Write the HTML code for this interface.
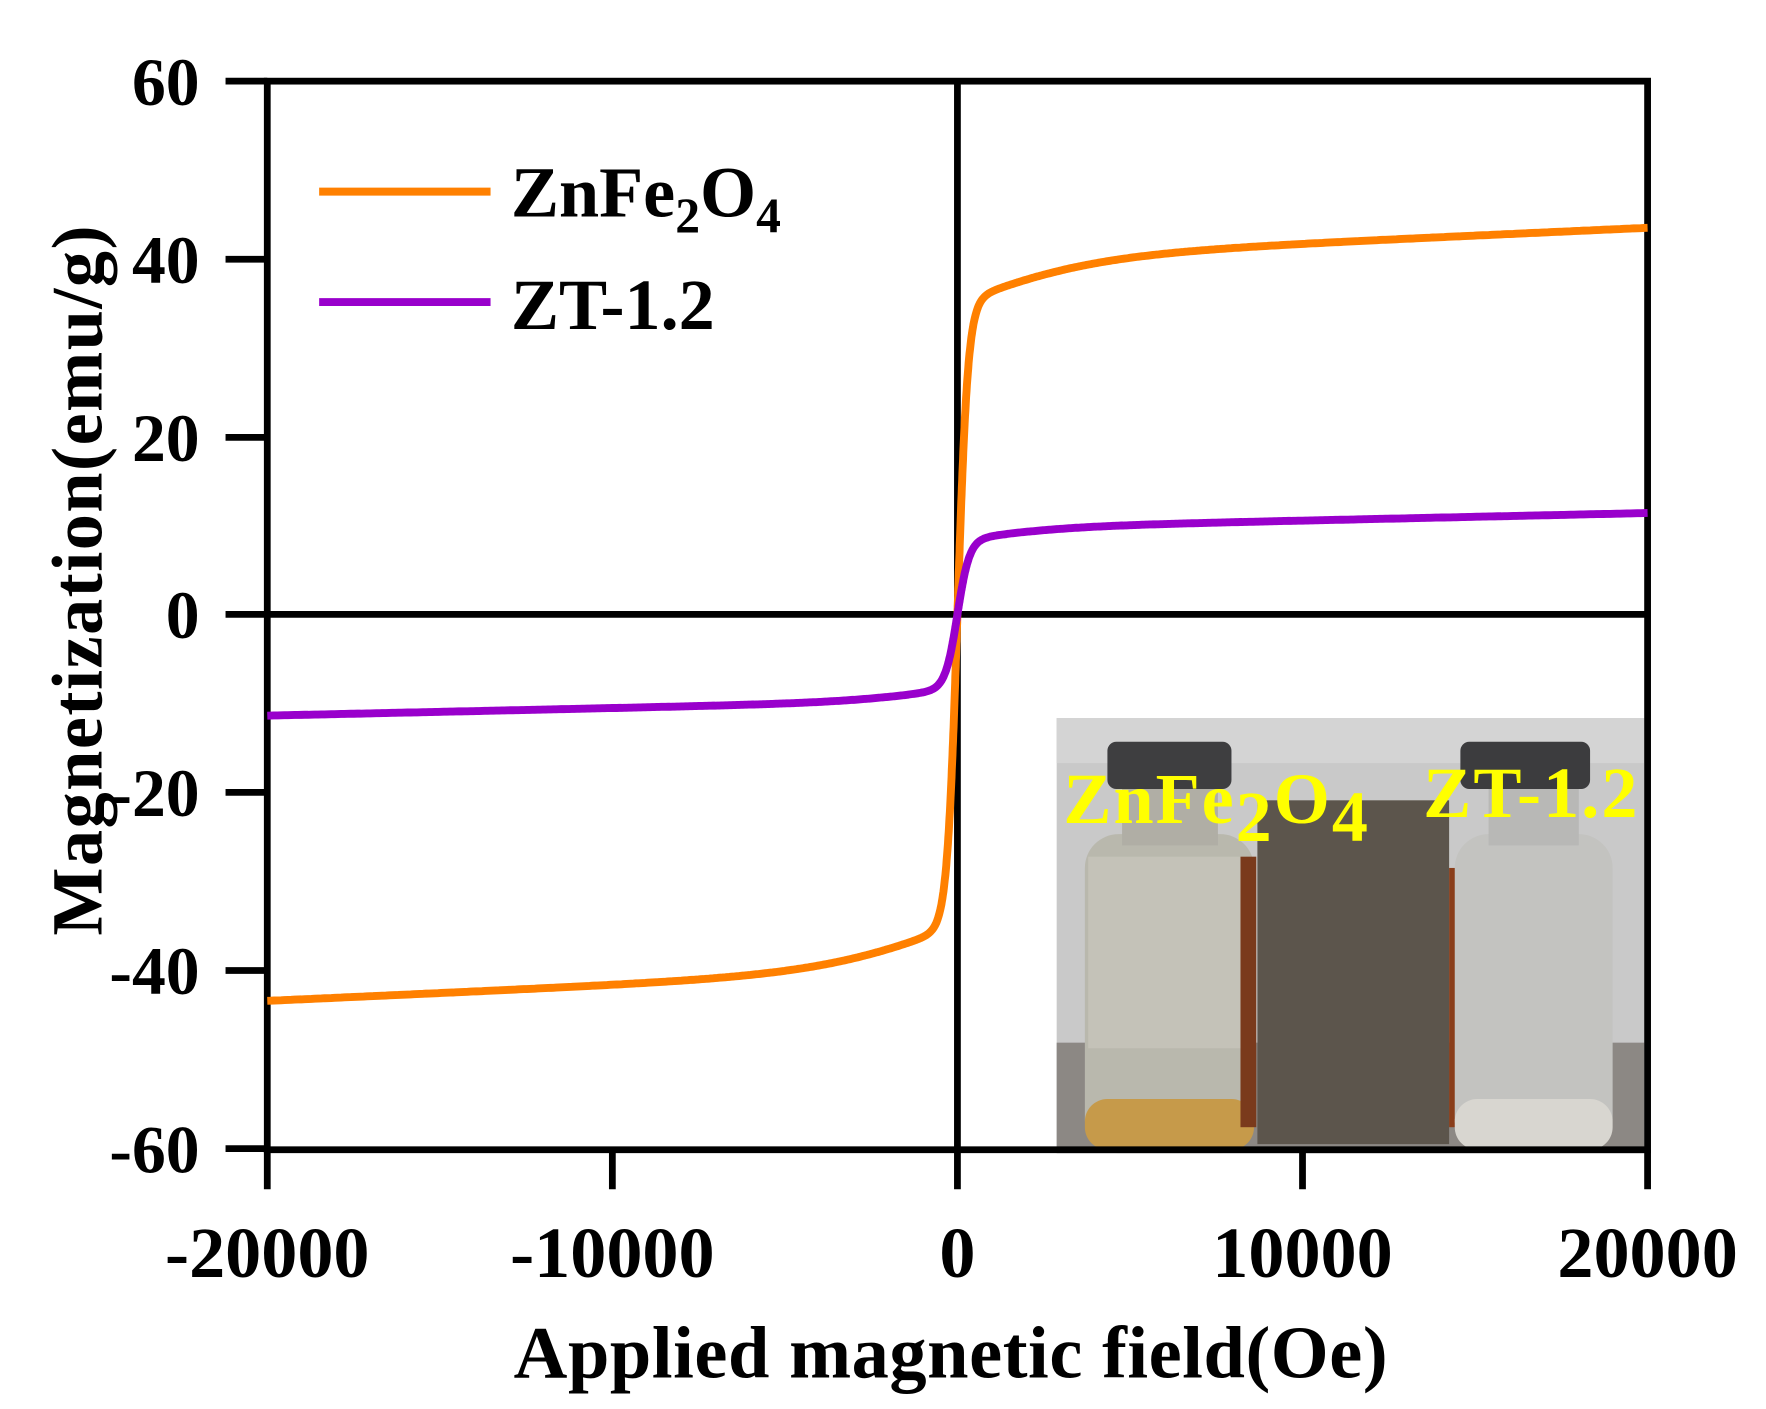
<!DOCTYPE html>
<html><head><meta charset="utf-8"><style>
html,body{margin:0;padding:0;background:#fff;}
svg{display:block;}
text{font-family:"Liberation Serif",serif;font-weight:bold;fill:#000;}
</style></head><body>
<svg id="s" width="1766" height="1409" viewBox="0 0 1566 1250" preserveAspectRatio="none" xmlns="http://www.w3.org/2000/svg">
<rect width="1566" height="1250" fill="#fff"/>
<g>
<rect x="937" y="637" width="521" height="386" fill="#c9c9c9"/>
<rect x="937" y="925" width="521" height="98" fill="#8c8884"/>
<rect x="937" y="637" width="521" height="40" fill="#d4d4d4"/>
<rect x="962" y="740" width="150" height="283" rx="30" fill="#b9b8ad"/>
<rect x="965" y="760" width="140" height="170" fill="#c4c2b8"/>
<rect x="962" y="975" width="150" height="45" rx="20" fill="#c69a4a"/>
<rect x="995" y="695" width="85" height="55" fill="#b0aea5"/>
<rect x="982" y="658" width="110" height="42" rx="8" fill="#3e3e40"/>
<rect x="1115" y="710" width="170" height="305" fill="#5c554c"/>
<rect x="1100" y="760" width="14" height="240" fill="#7a3a1c"/>
<rect x="1285" y="770" width="12" height="230" fill="#8a3e1a"/>
<rect x="1290" y="740" width="140" height="283" rx="30" fill="#c3c3c0"/>
<rect x="1290" y="975" width="140" height="45" rx="20" fill="#d8d6d0"/>
<rect x="1320" y="695" width="80" height="55" fill="#b8b8b6"/>
<rect x="1295" y="658" width="115" height="42" rx="8" fill="#3c3c3e"/>
<text x="943" y="730" font-size="64" textLength="270" style="fill:#ffff00">ZnFe<tspan dy="16">2</tspan><tspan dy="-16">O</tspan><tspan dy="16">4</tspan></text>
<text x="1262" y="725" font-size="64" textLength="190" style="fill:#ffff00">ZT-1.2</text>
</g>
<g stroke="#000" stroke-width="6" fill="none">
<rect x="237" y="72" width="1224" height="948"/>
<line x1="237" y1="545" x2="1461" y2="545"/>
<line x1="849" y1="72" x2="849" y2="1020"/>
<line x1="200" y1="72" x2="237" y2="72"/>
<line x1="200" y1="230" x2="237" y2="230"/>
<line x1="200" y1="388" x2="237" y2="388"/>
<line x1="200" y1="545" x2="237" y2="545"/>
<line x1="200" y1="703" x2="237" y2="703"/>
<line x1="200" y1="861" x2="237" y2="861"/>
<line x1="200" y1="1019" x2="237" y2="1019"/>
<line x1="237" y1="1020" x2="237" y2="1055"/>
<line x1="543" y1="1020" x2="543" y2="1055"/>
<line x1="849" y1="1020" x2="849" y2="1055"/>
<line x1="1155" y1="1020" x2="1155" y2="1055"/>
<line x1="1461" y1="1020" x2="1461" y2="1055"/>
</g>
<g id="curves"></g>
<g font-size="60" text-anchor="end">
<text x="177" y="93">60</text>
<text x="177" y="251">40</text>
<text x="177" y="409">20</text>
<text x="177" y="566">0</text>
<text x="177" y="724">-20</text>
<text x="177" y="882">-40</text>
<text x="177" y="1040">-60</text>
</g>
<g font-size="64" text-anchor="middle">
<text x="237" y="1133">-20000</text>
<text x="543" y="1133">-10000</text>
<text x="849" y="1133">0</text>
<text x="1155" y="1133">10000</text>
<text x="1461" y="1133">20000</text>
</g>
<text x="843" y="1222" font-size="66" text-anchor="middle" textLength="775">Applied magnetic field(Oe)</text>
<text transform="translate(90,515) rotate(-90)" font-size="64" text-anchor="middle" textLength="630">Magnetization(emu/g)</text>
<line x1="283" y1="170" x2="435" y2="170" stroke="#ff8000" stroke-width="7"/>
<line x1="283" y1="268" x2="435" y2="268" stroke="#9900cc" stroke-width="7"/>
<text x="453" y="192" font-size="64">ZnFe<tspan font-size="44" dy="14">2</tspan><tspan dy="-14">O</tspan><tspan font-size="44" dy="14">4</tspan></text>
<text x="453" y="292" font-size="64">ZT-1.2</text>
</svg>
<script>
(function(){
function X(h){return 849+h*(1224/40000);}
function Y(m){return 545-m*(473/60);}
function path(f){var d="";for(var i=0;i<=800;i++){var t=-1+2*i/800;var h=20000*Math.sign(t)*Math.pow(Math.abs(t),2);d+=(i?"L":"M")+X(h).toFixed(1)+","+Y(f(h)).toFixed(1);}return d;}
function o(h){return 35*Math.tanh(h/300)+5*Math.tanh(h/4000)+3.5*h/20000;}
function p(h){return 8.3*Math.tanh(h/350)+1.4*Math.tanh(h/3000)+1.7*h/20000;}
var g=document.getElementById("curves"),ns="http://www.w3.org/2000/svg";
[[o,"#ff8000"],[p,"#9900cc"]].forEach(function(a){var e=document.createElementNS(ns,"path");e.setAttribute("d",path(a[0]));e.setAttribute("stroke",a[1]);e.setAttribute("stroke-width","7");e.setAttribute("fill","none");g.appendChild(e);});
})();
</script>
</body></html>
